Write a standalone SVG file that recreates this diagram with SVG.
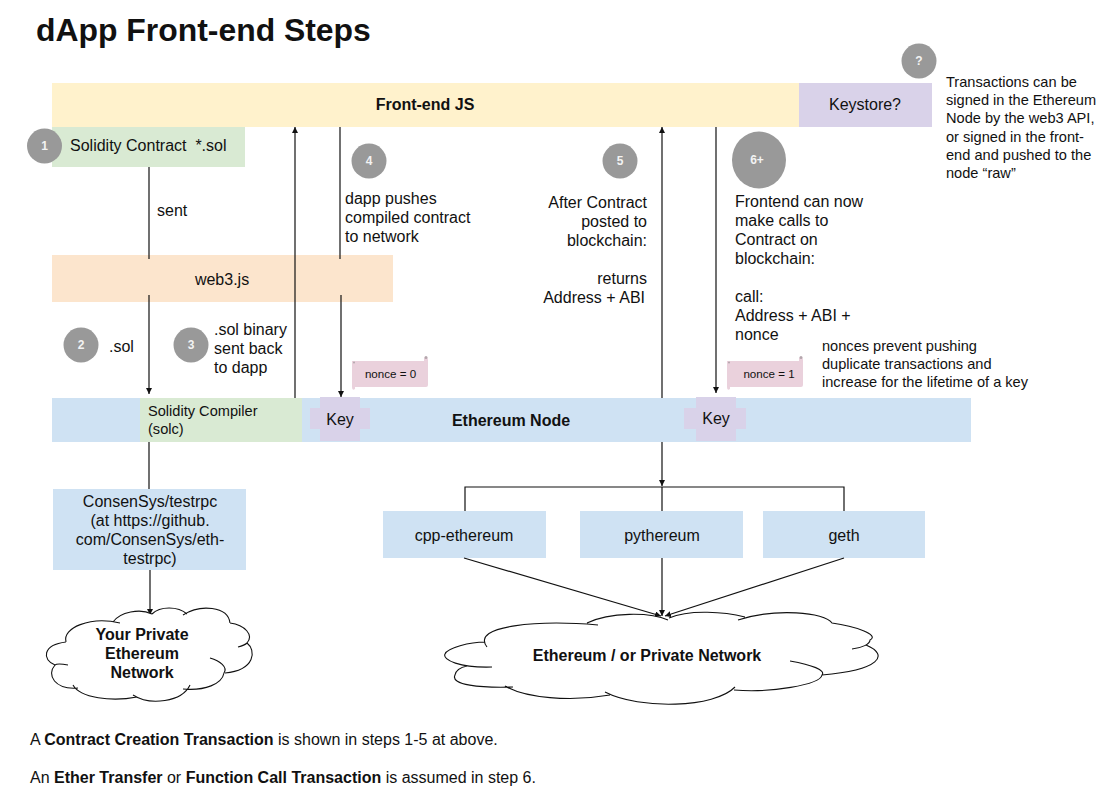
<svg xmlns="http://www.w3.org/2000/svg" width="1113" height="802" viewBox="0 0 1113 802">
<style>
text{font-family:"Liberation Sans",Arial,sans-serif;font-size:16px;fill:#111}
.b{font-weight:bold}
.m{text-anchor:middle}
.e{text-anchor:end}
.n{fill:#f3f3f3;font-size:12px;font-weight:bold;text-anchor:middle}
.c{fill:#999}
.l{fill:none;stroke:#111;stroke-width:1.2}
.a{marker-end:url(#ah)}
.k{fill:#d9d2e9}
.p{fill:#ead1dc}
.o{fill:none;stroke:#111;stroke-width:1.1}
.s{font-size:11.6px}
.t{font-size:14.6px}
.d{fill:#b4a6ac}
</style>
<defs>
<marker id="ah" markerUnits="userSpaceOnUse" markerWidth="8" markerHeight="7" refX="6" refY="3" orient="auto"><path d="M0 0L6 3L0 6Z" fill="#111"/></marker>
</defs>
<text id="title" x="36" y="41" class="b" style="font-size:31.9px">dApp Front-end Steps</text>

<g id="frontend"><rect x="52" y="83" width="747" height="44" fill="#fff2cc"/><text x="425" y="110" class="b m">Front-end JS</text></g>
<g id="keystore"><rect x="799" y="83" width="133" height="44" class="k"/><text x="865" y="110" class="m">Keystore?</text></g>
<g id="solidity-contract"><rect x="52" y="127" width="193" height="40" fill="#d9ead3"/><text x="70" y="151">Solidity Contract &#160;*.sol</text></g>
<g id="web3"><rect x="52" y="255" width="341" height="47" fill="#fce5cd"/><text x="222" y="285" class="m">web3.js</text></g>
<g id="ethereum-node"><rect x="52" y="398" width="919" height="44" fill="#cfe2f3"/><text x="511" y="426" class="b m">Ethereum Node</text></g>
<g id="solc"><rect x="140" y="398" width="162" height="44" fill="#d9ead3"/><text x="148" y="416" class="t">Solidity Compiler</text><text x="148" y="434" class="t">(solc)</text></g>
<g id="key1"><path class="k" d="M320 397H360V408H370V429H360V441H320V429H310V408H320Z"/><text x="340" y="425" class="m">Key</text></g>
<g id="key2"><path class="k" d="M696 397H736V408H746V429H736V441H696V429H684V408H696Z"/><text x="716" y="424" class="m">Key</text></g>
<g id="nonce0"><path class="p" d="M352 361H424V358Q428 356 428 360V385Q428 387 426 387H355V389Q352 391 352 387Z"/><circle cx="426" cy="357.5" r="1.5" class="d"/><circle cx="354" cy="362.5" r="1" class="d"/><text x="390.500" y="378" class="s m">nonce = 0</text></g>
<g id="nonce1"><path class="p" d="M727 361H799V358Q803 356 803 360V385Q803 387 801 387H730V389Q727 391 727 387Z"/><circle cx="801" cy="357.5" r="1.5" class="d"/><circle cx="729" cy="362.5" r="1" class="d"/><text x="769" y="378" class="s m">nonce = 1</text></g>
<g id="testrpc"><rect x="53" y="489" width="193" height="81" fill="#cfe2f3"/>
<text x="150" y="507" class="m">ConsenSys/testrpc</text><text x="150" y="526" class="m">(at https://github.</text><text x="150" y="545" class="m">com/ConsenSys/eth-</text><text x="150" y="564" class="m">testrpc)</text></g>
<g id="cpp-ethereum"><rect x="383" y="511" width="163" height="47" fill="#cfe2f3"/><text x="464" y="541" class="m">cpp-ethereum</text></g>
<g id="pythereum"><rect x="580" y="511" width="163" height="47" fill="#cfe2f3"/><text x="662" y="541" class="m">pythereum</text></g>
<g id="geth"><rect x="763" y="511" width="162" height="47" fill="#cfe2f3"/><text x="844" y="541" class="m">geth</text></g>

<g id="connectors">
<path class="l" d="M149 167V259"/>
<path class="l a" d="M149 295V394"/>
<path class="l a" d="M295 398V127"/>
<path class="l" d="M340 127V259"/>
<path class="l a" d="M341 295V397"/>
<path class="l a" d="M662 398V127"/>
<path class="l a" d="M716 127V393"/>
<path class="l" d="M149 442V489"/>
<path class="l a" d="M150 570V615"/>
<path class="l a" d="M662 442V486"/>
<path class="l" d="M662 487V511M465 511V487H844V511"/>
<path class="l a" d="M464 558L661 616"/>
<path class="l a" d="M662 558V616"/>
<path class="l a" d="M844 558L665 616"/>
</g>

<g id="cloud-private">
<path fill="#fff" d="M66 642C62 628 90 616 113 622C120 612 140 608 152 614C160 606 178 606 187 614C200 604 228 606 230 623C245 625 254 635 247 643C256 650 256 670 225 673C222 684 205 691 183 689C176 702 150 706 133 695C112 702 80 698 73 685C55 690 46 675 55 665C42 660 42 645 66 642Z"/>
<path class="o" d="M66 642C62 628 90 616 120 623M113 622C120 612 140 608 152 614M152 614C160 606 178 606 187 614M183 615C200 604 228 606 230 623M230 623C245 625 254 635 247 643C245 645 242 646 238 647M247 643C256 650 256 670 225 673M210 658C220 661 228 667 224 673C222 684 205 691 183 689M190 685C182 702 150 706 133 695M137 697C112 702 80 698 73 685M78 688C55 690 46 675 55 665C57 663 63 664 68 665M55 665C42 660 42 645 66 642"/>
<text x="142" y="640" class="b m">Your Private</text><text x="142" y="659" class="b m">Ethereum</text><text x="142" y="678" class="b m">Network</text>
</g>
<g id="cloud-network">
<path fill="#fff" d="M485 643C475 625 540 620 588 622C610 612 650 612 668 620C690 609 725 612 745 617C775 608 825 612 832 623C855 626 880 635 870 645C890 655 880 670 822 675C820 685 770 693 732 690C715 708 640 710 610 695C570 702 525 698 505 686C480 688 450 685 455 675C445 670 435 650 485 642Z"/>
<path class="o" d="M487 647C470 625 540 620 598 625M587 623C610 612 650 612 668 620M669 618C690 609 725 612 745 617M738 620C775 608 825 612 832 623C855 626 880 635 870 640C870 644 862 648 852 649M866 645C890 655 880 670 822 675M790 661C812 665 826 670 822 675C820 685 770 693 734 690M735 687C715 708 640 710 605 692M610 695C570 702 525 698 505 686M513 687C480 688 450 685 455 675C456 670 462 667 467 666M492 667C460 668 442 660 445 654C447 648 470 642 485 642"/>
<text x="647" y="661" class="b m">Ethereum / or Private Network</text>
</g>

<g id="step1"><circle cx="44.500" cy="146" r="17.500" class="c"/><text x="44.500" y="150" class="n">1</text></g>
<g id="step2"><circle cx="81" cy="345" r="17.500" class="c"/><text x="81" y="349" class="n">2</text></g>
<g id="step3"><circle cx="191" cy="345" r="17.500" class="c"/><text x="191" y="349" class="n">3</text></g>
<g id="step4"><circle cx="369" cy="161" r="17.500" class="c"/><text x="369" y="165" class="n">4</text></g>
<g id="step5"><circle cx="620" cy="161" r="17.500" class="c"/><text x="620" y="165" class="n">5</text></g>
<g id="step6"><ellipse cx="759" cy="160" rx="27" ry="28.500" class="c"/><text x="757" y="164" class="n">6+</text></g>
<g id="stepq"><circle cx="919" cy="61" r="17.500" class="c"/><text x="919" y="65" class="n">?</text></g>

<g id="labels">
<text x="157" y="216">sent</text>
<text x="109" y="352">.sol</text>
<text x="214" y="335">.sol binary</text><text x="214" y="354">sent back</text><text x="214" y="373">to dapp</text>
<text x="345" y="204">dapp pushes</text><text x="345" y="223">compiled contract</text><text x="345" y="242">to network</text>
<text x="647" y="208" class="e">After Contract</text><text x="647" y="227" class="e">posted to</text><text x="647" y="246" class="e">blockchain:</text><text x="647" y="284" class="e">returns</text><text x="645" y="303" class="e">Address + ABI</text>
<text x="735" y="207">Frontend can now</text><text x="735" y="226">make calls to</text><text x="735" y="245">Contract on</text><text x="735" y="264">blockchain:</text><text x="735" y="302">call:</text><text x="735" y="321">Address + ABI +</text><text x="735" y="340">nonce</text>
<text x="822" y="351" class="t">nonces prevent pushing</text><text x="822" y="369" class="t">duplicate transactions and</text><text x="822" y="387" class="t">increase for the lifetime of a key</text>
<text x="946" y="87" class="t">Transactions can be</text><text x="946" y="105" class="t">signed in the Ethereum</text><text x="946" y="123" class="t">Node by the web3 API,</text><text x="946" y="142" class="t">or signed in the front-</text><text x="946" y="160" class="t">end and pushed to the</text><text x="946" y="178" class="t">node “raw”</text>
<text x="30" y="745">A <tspan class="b">Contract Creation Transaction</tspan> is shown in steps 1-5 at above.</text>
<text x="30" y="783">An <tspan class="b">Ether Transfer</tspan> or <tspan class="b">Function Call Transaction</tspan> is assumed in step 6.</text>
</g>
</svg>
